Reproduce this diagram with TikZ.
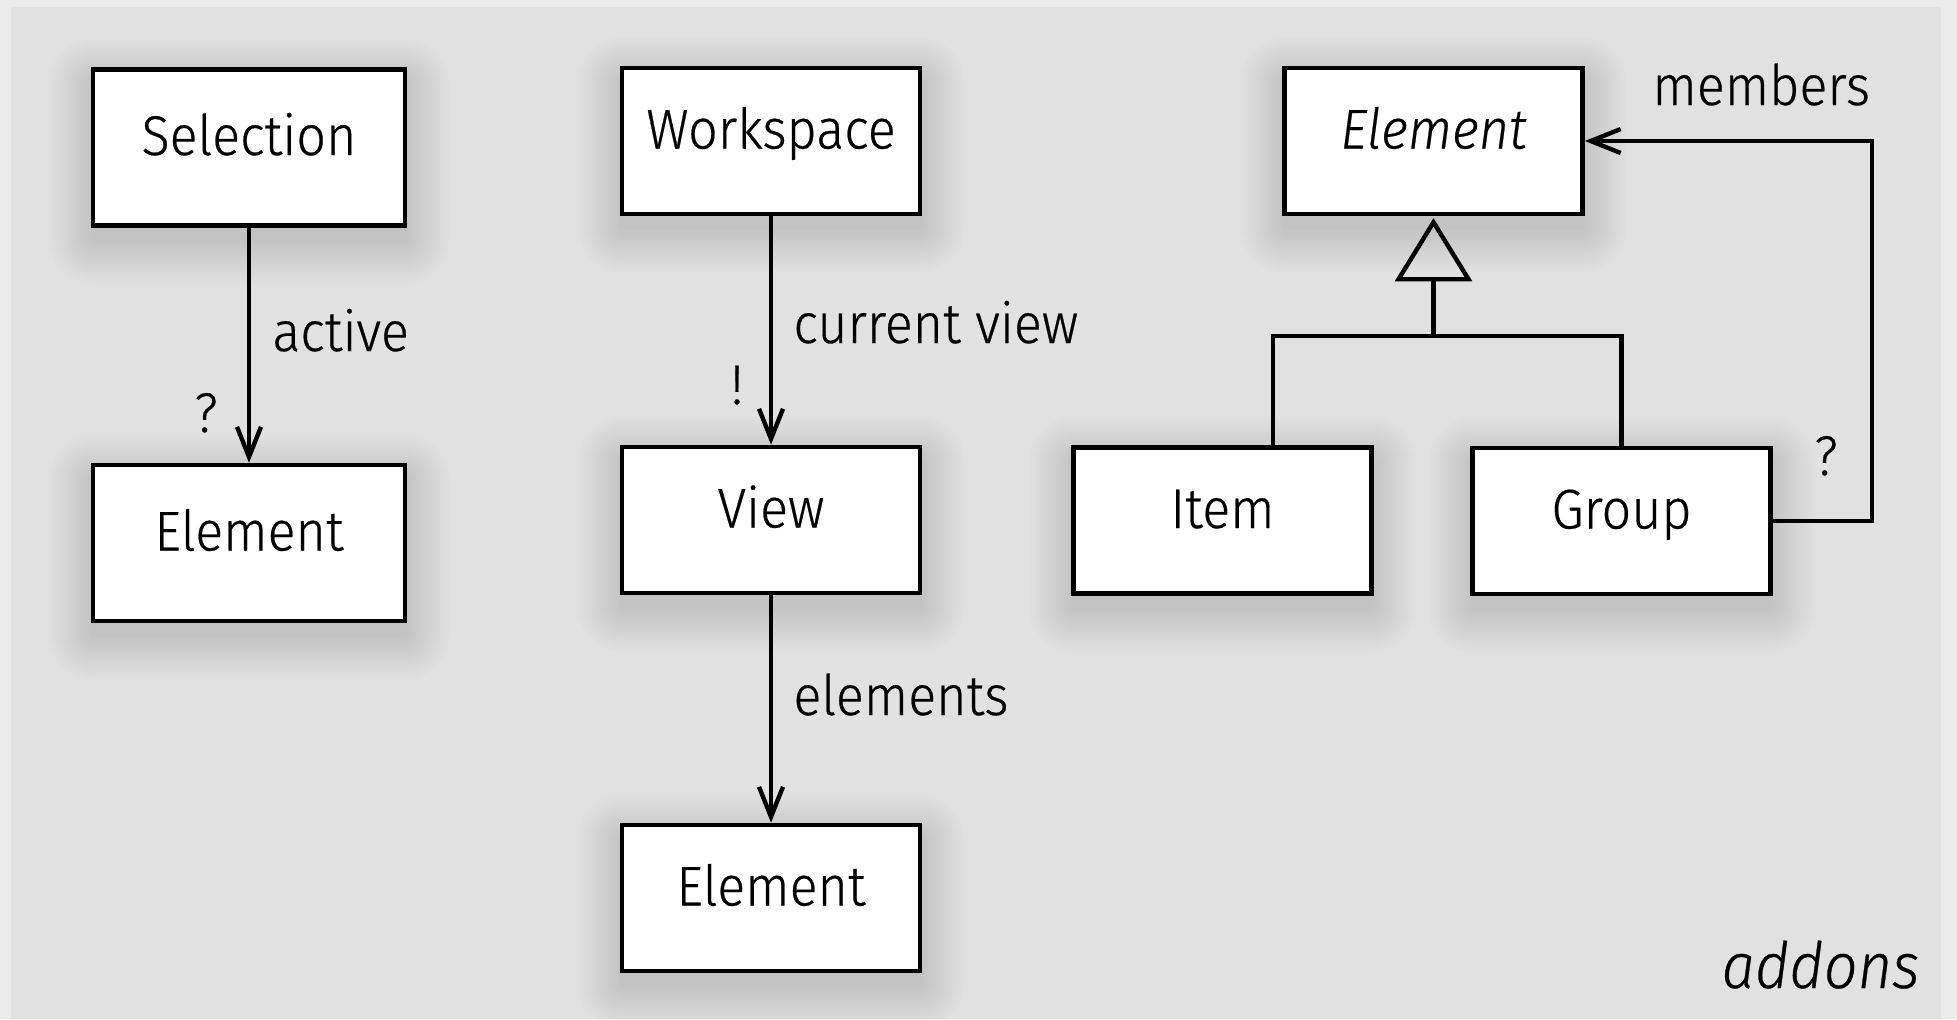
\documentclass[tikz,border=0pt]{standalone}
\usepackage{fontspec}
\setmainfont{Fira Sans Light}[ItalicFont={Fira Sans Light Italic}, FakeStretch=0.93, FakeBold=0.4]
\usetikzlibrary{arrows.meta,calc}
\definecolor{outerbg}{HTML}{EBEBEB}
\definecolor{panel}{HTML}{E1E1E1}
\pgfdeclarelayer{panellayer}
\pgfdeclarelayer{shadowlayer}
\pgfsetlayers{panellayer,shadowlayer,main}
\newcommand\boxshadow[1]{%
  \begin{pgfonlayer}{shadowlayer}
  \foreach \e in {0,3,...,42}{%
    \pgfmathsetmacro\rc{\e*0.5+1}%
    \fill[black, opacity=0.0075, rounded corners=\rc pt]
      ($(#1.south west)+(-\e,14+\e)$) rectangle ($(#1.north east)+(\e,14-\e)$);}
  \end{pgfonlayer}}
\begin{document}
\begin{tikzpicture}[x=0.5pt,y=-0.5pt,
  box/.style={draw=black, line width=2.25pt, fill=white, inner sep=0pt,
    font=\fontsize{28}{34}\selectfont, text height=20pt, text depth=12.5pt},
  bigbox/.style={box, minimum width=156pt, minimum height=78pt},
  smallbox/.style={box, minimum width=149pt, minimum height=73pt},
  lbl/.style={inner sep=0pt, font=\fontsize{28}{34}\selectfont},
  assoc/.style={line width=2.2pt, -{Straight Barb[length=15pt,width=12pt]}},
  plainline/.style={line width=2.2pt}]
\useasboundingbox (0,0) rectangle (1957,1019);
\begin{pgfonlayer}{panellayer}
\fill[outerbg] (0,0) rectangle (1957,1019);
\fill[panel] (11,7) rectangle (1941,1019);
\end{pgfonlayer}

% left column
\node[bigbox] (sel) at (249,147.5) {Selection};
\node[bigbox] (elL) at (249,543) {Element};
\draw[assoc] (sel.south) -- (elL.north);
\node[lbl, anchor=base west] (lactive) at (272,351) {active};
\node[lbl, anchor=base] (lq1) at (206,432) {?};

% middle column
\node[smallbox] (ws) at (771,141) {Workspace};
\node[smallbox] (view) at (771,520) {View};
\node[smallbox] (elM) at (771,898) {Element};
\draw[assoc] (ws.south) -- (view.north);
\draw[assoc] (view.south) -- (elM.north);
\node[lbl, anchor=base west] (lcur) at (793,343) {current view};
\node[lbl, anchor=base] (lex) at (737,404) {!};
\node[lbl, anchor=base west] (lelem) at (793,715) {elements};

% right group
\node[smallbox] (elR) at (1433.5,141) {\itshape Element};
\node[smallbox] (item) at (1222.5,520.5) {Item};
\node[smallbox] (group) at (1621.5,521) {Group};

\coordinate (apex) at ($(elR.south)+(0,6)$);
\coordinate (tb) at ($(apex)+(0,57)$);
\coordinate (hy) at ($(tb)+(0,57)$);
\coordinate (ij) at (1273,0);
\draw[plainline, line join=miter] (apex) -- ++(35,57) -- ++(-70,0) -- cycle;
\draw[plainline] (tb) -- (hy);
\draw[plainline] (ij |- item.north) -- (ij |- hy) -- (hy -| group.north) -- (group.north);

\coordinate (mcx) at (1872,0);
\draw[assoc, line join=miter] (group.east) -- (group.east -| mcx) |- (elR.east);
\node[lbl, anchor=base west] (lmem) at (1652,105) {members};
\node[lbl, anchor=base] (lq2) at (1826,475) {?};

\node[lbl, anchor=base east, font=\fontsize{32}{38}\selectfont\itshape] (addons) at (1920,988) {addons};

\boxshadow{sel}\boxshadow{elL}\boxshadow{ws}\boxshadow{view}\boxshadow{elM}
\boxshadow{elR}\boxshadow{item}\boxshadow{group}
\end{tikzpicture}
\end{document}
